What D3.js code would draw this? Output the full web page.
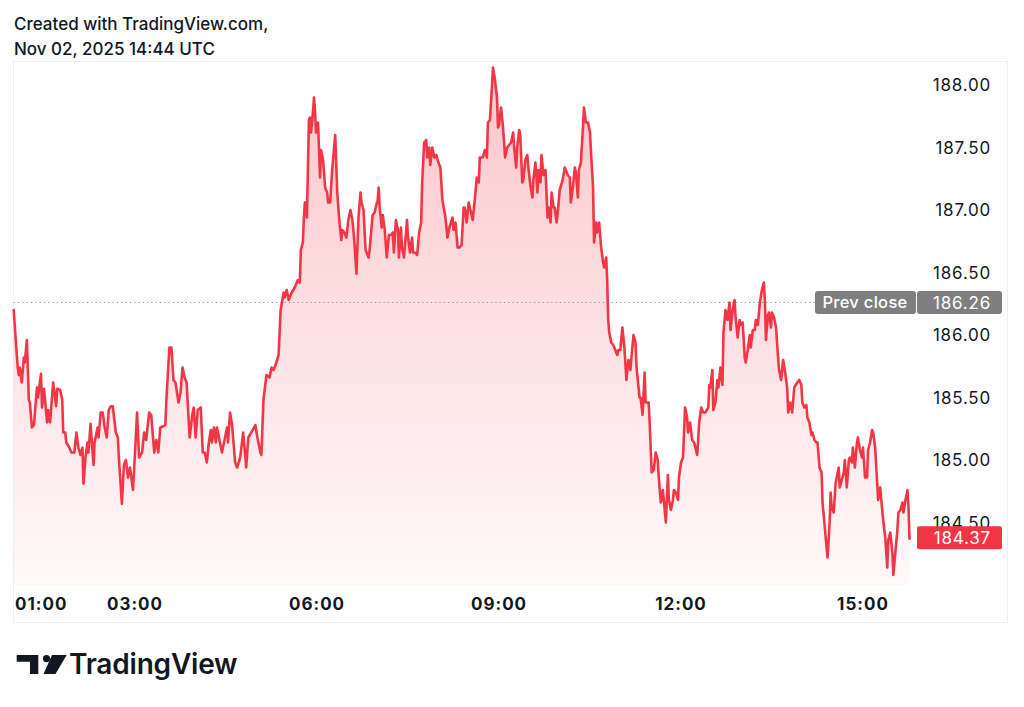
<!DOCTYPE html>
<html><head><meta charset="utf-8">
<script src="https://cdn.jsdelivr.net/npm/d3@7"></script>
<style>html,body{margin:0;padding:0;background:#fff;} svg{display:block;}</style>
</head><body><svg id="chart" width="1024" height="707"></svg>
<script>
// ---- data (minutes since 00:00, price) ----
const minutes = [
60,62,64,65,66,68,70,71,73,75, 76,78,80,83,84,87,88,90,93,94,
96,99,102,103,106,108,109,111,112,115, 117,120,122,124,126,128,129,131,133,134,
136,139,140,143,144,146,148,150,152,154, 156,158,161,163,164,167,169,171,173,175,
178,180,182,184,187,189,191,194,196,199, 201,203,205,208,210,211,214,216,218,220,
223,225,227,229,231,234,237,238,240,242, 245,247,249,251,253,255,256,258,260,261,
264,266,268,271,272,274,276,279,281,284, 287,290,292,295,299,301,304,305,307,310,
313,315,317,319,322,323,324,327,328,330, 332,335,338,341,343,344,346,347,348,349,
350,352,353,354,356,357,358,359,361,362, 363,364,366,368,370,371,373,375,378,380,
382,384,385,387,389,391,393,395,397,399, 401,403,404,406,408,411,412,415,417,418,
420,421,422,424,425,427,429,431,433,435, 436,438,440,441,443,444,446,449,450,452,
454,455,457,459,461,463,464,466,468,469, 471,472,474,476,478,480,482,484,487,489,
491,494,495,497,499,501,503,505,506,508, 510,514,516,518,520,521,524,526,528,529,
531,533,534,536,538,539,540,542,544,546, 548,550,552,554,555,557,558,560,561,563,
564,566,568,569,571,573,574,576,578,579, 581,582,584,586,588,589,591,592,594,595,
597,599,600,603,605,608,610,611,613,615, 616,618,619,621,623,624,626,628,630,631,
633,634,636,637,639,641,643,644,646,647, 648,649,651,653,655,657,658,660,662,664,
666,668,670,671,673,675,676,679,680,682, 684,685,688,689,691,693,695,697,698,700,
702,703,705,707,708,710,712,713,715,717, 718,720,722,724,726,727,729,731,733,736,
738,740,742,744,747,748,749,751,752,754, 756,757,759,761,762,764,766,768,769,771,
773,774,776,778,779,781,783,784,786,788, 789,791,793,794,796,798,800,802,803,804,
806,807,809,810,812,814,816,817,819,821, 823,825,826,828,830,832,835,837,839,840,
842,844,845,847,849,850,852,854,855,857, 859,860,862,864,865,867,868,869,871,873,
874,876,877,879,881,882,884,886,887,889, 890,892,894,895,897,899,900,902,904,905,
907,909,910,912,914,915,917,919,920,922, 924,925,927,929,930,932,934,935,937,939,
940,942,944,945,946
];
const prices = [
186.20,185.96,185.74,185.68,185.74,185.62,185.82,185.78,185.96,185.48, 185.46,185.26,185.28,185.58,185.50,185.69,185.42,185.57,185.30,185.40,
185.30,185.62,185.43,185.57,185.56,185.48,185.22,185.22,185.14,185.10, 185.06,185.06,185.22,185.10,185.04,185.10,184.81,185.02,185.14,185.06,
185.29,184.96,185.14,185.26,185.18,185.38,185.38,185.26,185.18,185.40, 185.43,185.43,185.22,185.18,185.02,184.65,184.96,185.00,184.86,184.94,
184.76,185.06,185.38,185.02,185.06,185.22,185.16,185.38,185.36,185.06, 185.16,185.06,185.26,185.27,185.28,185.48,185.90,185.90,185.64,185.62,
185.46,185.54,185.74,185.66,185.62,185.18,185.38,185.42,185.18,185.40, 185.42,185.06,185.06,184.98,185.14,185.24,185.14,185.26,185.14,185.26,
185.14,185.06,185.14,185.26,185.14,185.38,185.28,184.98,184.94,185.02, 185.22,184.94,185.18,185.22,185.28,185.18,185.06,185.04,185.48,185.68,
185.66,185.74,185.72,185.76,185.84,186.02,186.20,186.34,186.30,186.36, 186.28,186.34,186.38,186.44,186.42,186.68,186.74,186.94,187.06,187.06,
186.94,187.72,187.74,187.62,187.78,187.90,187.80,187.62,187.70,187.48, 187.26,187.48,187.40,187.18,187.14,187.06,187.06,187.32,187.60,187.14,
186.92,186.76,186.84,186.82,186.78,186.92,187.00,186.92,186.74,186.49, 186.94,187.14,187.06,187.00,186.68,186.62,186.68,186.96,186.98,187.02,
187.08,187.18,187.02,186.86,186.96,186.84,186.62,186.80,186.80,186.82, 186.66,186.92,186.84,186.62,186.86,186.70,186.62,186.92,186.78,186.66,
186.78,186.66,186.66,186.64,186.82,186.90,187.22,187.54,187.56,187.42, 187.50,187.36,187.50,187.42,187.44,187.38,187.34,187.08,186.94,186.78,
186.86,186.94,186.84,186.90,186.70,186.70,186.72,187.02,187.02,186.90, 187.06,186.92,187.08,187.26,187.22,187.42,187.42,187.48,187.42,187.70,
187.72,187.98,188.14,188.04,187.90,187.66,187.68,187.82,187.66,187.42, 187.50,187.52,187.54,187.62,187.50,187.34,187.50,187.64,187.60,187.22,
187.24,187.40,187.44,187.34,187.20,187.10,187.24,187.38,187.14,187.32, 187.22,187.44,187.28,187.32,186.94,187.02,186.90,187.14,187.02,187.02,
186.90,187.06,187.16,187.24,187.34,187.28,187.26,187.06,187.18,187.34, 187.30,187.10,187.32,187.38,187.66,187.82,187.70,187.70,187.62,187.46,
187.18,186.74,186.90,186.82,186.90,186.70,186.58,186.54,186.62,186.44, 186.12,186.02,185.94,185.92,185.88,185.84,185.88,185.88,186.06,185.90,
185.64,185.80,185.72,185.82,186.00,185.94,185.74,185.50,185.50,185.36, 185.70,185.46,185.46,185.30,184.90,184.92,185.06,185.00,184.86,184.66,
184.76,184.68,184.50,184.88,184.68,184.60,184.68,184.76,184.74,184.68, 184.86,184.98,185.02,185.42,185.34,185.22,185.30,185.16,185.14,185.04,
185.30,185.42,185.38,185.38,185.42,185.60,185.58,185.72,185.40,185.46, 185.64,185.58,185.74,185.60,186.02,186.20,186.12,186.26,186.04,186.20,
186.28,186.14,185.98,186.12,186.08,186.10,185.82,185.78,185.88,186.00, 185.90,186.04,186.04,186.12,186.08,186.26,186.36,186.42,186.26,185.96,
186.16,186.18,186.06,186.18,186.14,186.06,185.82,185.72,185.64,185.80, 185.70,185.58,185.38,185.46,185.38,185.58,185.62,185.64,185.60,185.46,
185.42,185.44,185.34,185.30,185.20,185.22,185.16,185.14,185.14,184.94, 184.90,184.66,184.48,184.30,184.22,184.50,184.74,184.62,184.58,184.82,
184.86,184.94,184.78,184.84,184.90,185.00,184.78,185.00,185.02,184.98, 185.10,184.94,185.14,185.18,185.08,185.02,185.10,184.86,184.86,185.08,
185.14,185.24,185.22,185.10,184.82,184.68,184.78,184.60,184.52,184.38, 184.14,184.36,184.42,184.26,184.08,184.26,184.44,184.58,184.60,184.66,
184.58,184.68,184.76,184.62,184.37
];
const priceTicks = [184.5, 185, 185.5, 186, 186.5, 187, 187.5, 188];
const timeTicks = [60, 180, 360, 540, 720, 900];
const timeTickLabels = ["01:00", "03:00", "06:00", "09:00", "12:00", "15:00"];
const prevClose = 186.26;
const lastPrice = 184.37;
const headerLines = ["Created with TradingView.com,", "Nov 02, 2025 14:44 UTC"];
const prevCloseLabel = "Prev close";
const brandName = "TradingView";

// ---- layout ----
const FONT = "Inter, 'Noto Sans', sans-serif";
const TXT = "#131722";
const RED = "#f23645";
const plotTop = 62, plotBottom = 585, plotLeft = 13.7;
const labelRight = 991;

const svg = d3.select("#chart");
const data = minutes.map((m, i) => ({ m, p: prices[i] }));

const x = d3.scaleLinear().domain([60, 900]).range([13.7, 863]);
const y = d3.scaleLinear().domain([184.5, 188]).range([522.5, 85]);

// header
svg.selectAll("text.hdr").data(headerLines).join("text")
  .attr("class", "hdr")
  .attr("x", 14).attr("y", (d, i) => 30 + i * 24.5)
  .attr("font-family", FONT).attr("font-size", 17).attr("font-weight", 500)
  .attr("fill", TXT).text(d => d);

// frame
svg.append("rect").attr("x", 13.5).attr("y", 61.5).attr("width", 994).attr("height", 561)
  .attr("fill", "none").attr("stroke", "#eef0f3").attr("stroke-width", 1);

// gradient
const defs = svg.append("defs");
const grad = defs.append("linearGradient").attr("id", "fillGrad")
  .attr("gradientUnits", "userSpaceOnUse")
  .attr("x1", 0).attr("x2", 0).attr("y1", plotTop).attr("y2", plotBottom);
grad.append("stop").attr("offset", 0).attr("stop-color", RED).attr("stop-opacity", 0.28);
grad.append("stop").attr("offset", 1).attr("stop-color", RED).attr("stop-opacity", 0.03);

// area
svg.append("path").datum(data)
  .attr("d", d3.area().x(d => x(d.m)).y0(plotBottom).y1(d => y(d.p)))
  .attr("fill", "url(#fillGrad)");

// prev close dotted line
svg.append("line")
  .attr("x1", plotLeft).attr("x2", 815)
  .attr("y1", y(prevClose)).attr("y2", y(prevClose))
  .attr("stroke", "#9598a1").attr("stroke-width", 1.2)
  .attr("stroke-dasharray", "1.3 3");

// line
svg.append("path").datum(data)
  .attr("d", d3.line().x(d => x(d.m)).y(d => y(d.p)))
  .attr("fill", "none").attr("stroke", RED).attr("stroke-width", 2.6)
  .attr("stroke-linejoin", "round").attr("stroke-linecap", "round");

// price axis labels
svg.selectAll("text.ptick").data(priceTicks).join("text")
  .attr("class", "ptick")
  .attr("x", labelRight).attr("y", d => y(d))
  .attr("dy", "0.36em").attr("text-anchor", "end")
  .attr("font-family", FONT).attr("font-size", 17).attr("font-weight", 400)
  .attr("letter-spacing", 0.8)
  .attr("fill", TXT).text(d => d.toFixed(2));

// prev close badge
const pcY = y(prevClose);
svg.append("rect").attr("x", 815).attr("y", pcY - 11.5).attr("width", 101).attr("height", 23)
  .attr("rx", 3).attr("fill", "#7f7f7f");
svg.append("rect").attr("x", 917).attr("y", pcY - 11.5).attr("width", 85).attr("height", 23)
  .attr("rx", 3).attr("fill", "#7f7f7f");
svg.append("text").attr("x", 865).attr("y", pcY).attr("dy", "0.36em")
  .attr("text-anchor", "middle").attr("font-family", FONT).attr("font-size", 16.5)
  .attr("font-weight", 500).attr("letter-spacing", 0.3).attr("fill", "#fff").text(prevCloseLabel);
svg.append("text").attr("x", labelRight).attr("y", pcY).attr("dy", "0.36em")
  .attr("text-anchor", "end").attr("font-family", FONT).attr("font-size", 17)
  .attr("letter-spacing", 0.8).attr("fill", "#fff").text(prevClose.toFixed(2));

// last price badge
const lpY = y(lastPrice);
svg.append("rect").attr("x", 917).attr("y", lpY - 12.5).attr("width", 85).attr("height", 23)
  .attr("rx", 2).attr("fill", RED);
svg.append("text").attr("x", labelRight).attr("y", lpY - 1).attr("dy", "0.36em")
  .attr("text-anchor", "end").attr("font-family", FONT).attr("font-size", 17)
  .attr("letter-spacing", 0.8).attr("fill", "#fff").text(lastPrice.toFixed(2));

// time axis labels
svg.selectAll("text.ttick").data(timeTicks).join("text")
  .attr("class", "ttick")
  .attr("x", (d, i) => i === 0 ? 15 : x(d))
  .attr("y", 604).attr("dy", "0.36em")
  .attr("text-anchor", (d, i) => i === 0 ? "start" : "middle")
  .attr("font-family", FONT).attr("font-size", 17).attr("font-weight", 700)
  .attr("letter-spacing", 1)
  .attr("fill", TXT).text((d, i) => timeTickLabels[i]);

// logo
const logo = svg.append("g").attr("fill", TXT);
logo.append("path").attr("d", "M16.7,655 H38.3 V674 H30 V661.7 H16.7 Z");
logo.append("circle").attr("cx", 46.5).attr("cy", 658.6).attr("r", 3.6);
logo.append("path").attr("d", "M52,655 H66.7 L55.5,674 H43.5 Z");
svg.append("text").attr("x", 69).attr("y", 674)
  .attr("font-family", FONT).attr("font-size", 28).attr("font-weight", 600)
  .attr("letter-spacing", -0.2)
  .attr("fill", TXT).text(brandName);
</script></body></html>
